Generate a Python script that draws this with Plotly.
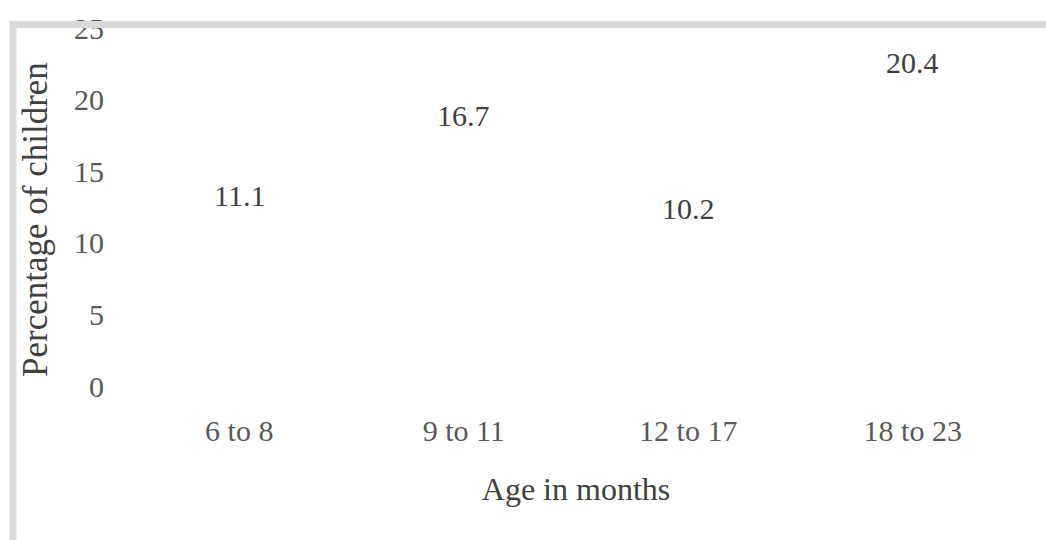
import plotly.graph_objects as go

# Age groups and percentage of children in each
age_groups = ["6 to 8", "9 to 11", "12 to 17", "18 to 23"]
percentages = [11.1, 16.7, 10.2, 20.4]
y_ticks = [0, 5, 10, 15, 20, 25]

FONT = "Liberation Serif"
TICK_COLOR = "#595959"
TEXT_COLOR = "#404040"
FRAME_COLOR = "#d9d9d9"

fig = go.Figure()

# Bars are left unfilled so only their value labels show
fig.add_trace(go.Bar(
    x=age_groups,
    y=percentages,
    marker=dict(color="rgba(255,255,255,0)", line=dict(width=0)),
    hoverinfo="x+y",
    showlegend=False,
))

# Value labels sitting above each bar
for cat, val in zip(age_groups, percentages):
    fig.add_annotation(
        x=cat, y=val, text=f"{val}",
        showarrow=False, yanchor="bottom", yshift=13,
        font=dict(family=FONT, size=30, color=TEXT_COLOR),
    )

# Vertical axis title
fig.add_annotation(
    xref="paper", yref="paper", x=-0.1013, y=0.4637,
    text="Percentage of children", textangle=-90,
    showarrow=False, xanchor="center", yanchor="middle",
    font=dict(family=FONT, size=35, color=TEXT_COLOR),
)

# Light grey frame along the top and left edges
fig.add_shape(
    type="path",
    xref="paper", yref="paper",
    path="M -0.127,-0.6 L -0.127,1.0098 L 1.2,1.0098",
    line=dict(color=FRAME_COLOR, width=7),
    layer="above",
)

fig.update_layout(
    width=1046, height=540,
    margin=dict(l=127, r=21, t=28, b=154),
    paper_bgcolor="white", plot_bgcolor="white",
    font=dict(family=FONT, size=30, color=TICK_COLOR),
    bargap=0.5,
)

fig.update_xaxes(
    showgrid=False, zeroline=False, showline=False,
    ticks="", ticklabelstandoff=24,
    tickfont=dict(family=FONT, size=30, color=TICK_COLOR),
    title=dict(text="Age in months", standoff=31,
               font=dict(family=FONT, size=32, color=TEXT_COLOR)),
)

fig.update_yaxes(
    range=[0, 25], tickvals=y_ticks,
    showgrid=False, zeroline=False, showline=False,
    ticks="", ticklabelstandoff=22,
    tickfont=dict(family=FONT, size=30, color=TICK_COLOR),
)

fig.write_html("out.html")
